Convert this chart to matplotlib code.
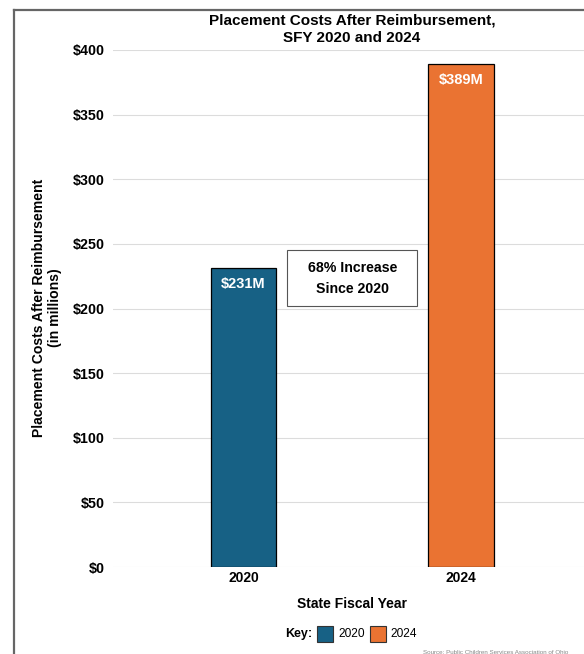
import matplotlib
matplotlib.use("Agg")
import matplotlib.pyplot as plt
from matplotlib.patches import Rectangle
from matplotlib.lines import Line2D

plt.rcParams['font.family'] = ['Liberation Sans', 'DejaVu Sans']

years = ["2020", "2024"]
costs = [231, 389]
labels = ["$231M", "$389M"]
colors = ["#176185", "#EA7332"]
yticks = [0, 50, 100, 150, 200, 250, 300, 350, 400]
ytick_labels = ["$0", "$50", "$100", "$150", "$200", "$250", "$300", "$350", "$400"]

W, H = 584, 654
fig = plt.figure(figsize=(W / 100, H / 100), dpi=100)

def fx(px):
    return px / W

def fy(py):
    return 1 - py / H

left, right, top, bottom = 113, 591.5, 50, 567
ax = fig.add_axes([fx(left), fy(bottom), fx(right) - fx(left), fy(top) - fy(bottom)])

xpos = [1, 2]
ax.bar(xpos, costs, width=0.3, color=colors, edgecolor="black", linewidth=0.9, zorder=3)
for x, v, lab in zip(xpos, costs, labels):
    ax.text(x, v - 12, lab, ha="center", va="center", color="white",
            fontsize=10.5, fontweight="bold", zorder=4)

ax.set_xlim(0.4, 2.6)
ax.set_ylim(0, 400)
ax.set_yticks(yticks)
ax.set_yticklabels(ytick_labels, fontsize=10.3, fontweight="bold")
ax.set_xticks(xpos)
ax.set_xticklabels(years, fontsize=10, fontweight="bold")
ax.tick_params(axis="x", length=0, pad=3)
ax.tick_params(axis="y", length=0, pad=6)
ax.grid(axis="y", color="#dcdcdc", linewidth=0.8, zorder=0)
for s in ax.spines.values():
    s.set_visible(False)

# y label
fig.text(fx(47), fy(308), "Placement Costs After Reimbursement\n(in millions)", fontsize=10.1,
         fontweight="bold", rotation=90, ha="center", va="center", linespacing=1.25)
# x label
fig.text(fx(352), fy(604), "State Fiscal Year", fontsize=10, fontweight="bold",
         ha="center", va="center")
# title
fig.text(fx(352), fy(29), "Placement Costs After Reimbursement,\nSFY 2020 and 2024", fontsize=11,
         fontweight="bold", ha="center", va="center", linespacing=1.3)

# annotation box
ax.add_patch(Rectangle((1.2, 202), 0.598, 43.3, facecolor="white", edgecolor="#555555",
                       linewidth=0.8, zorder=5))
ax.text(1.5, 223.3, "68% Increase\nSince 2020", ha="center", va="center", fontsize=10.2,
        fontweight="bold", linespacing=1.65, zorder=6)

# legend (manual)
fig.text(fx(312), fy(634), "Key:", fontsize=9, fontweight="bold", ha="right", va="center")
for c, y, bx, tx in zip(colors, years, [317, 370], [338, 390]):
    fig.add_artist(Rectangle((fx(bx), fy(642)), fx(16), 16 / H, facecolor=c,
                             edgecolor="#333333", linewidth=0.8))
    fig.text(fx(tx), fy(634), y, fontsize=8.6, ha="left", va="center")

# outer border
fig.add_artist(Line2D([fx(14), fx(14)], [fy(10), 0], color="#666666", linewidth=1.6))
fig.add_artist(Line2D([fx(14), 1], [fy(10), fy(10)], color="#666666", linewidth=1.6))

fig.text(fx(423), fy(652), "Source: Public Children Services Association of Ohio", fontsize=4.5,
         color="#888888", ha="left", va="center")

fig.savefig("out.png", dpi=100)
